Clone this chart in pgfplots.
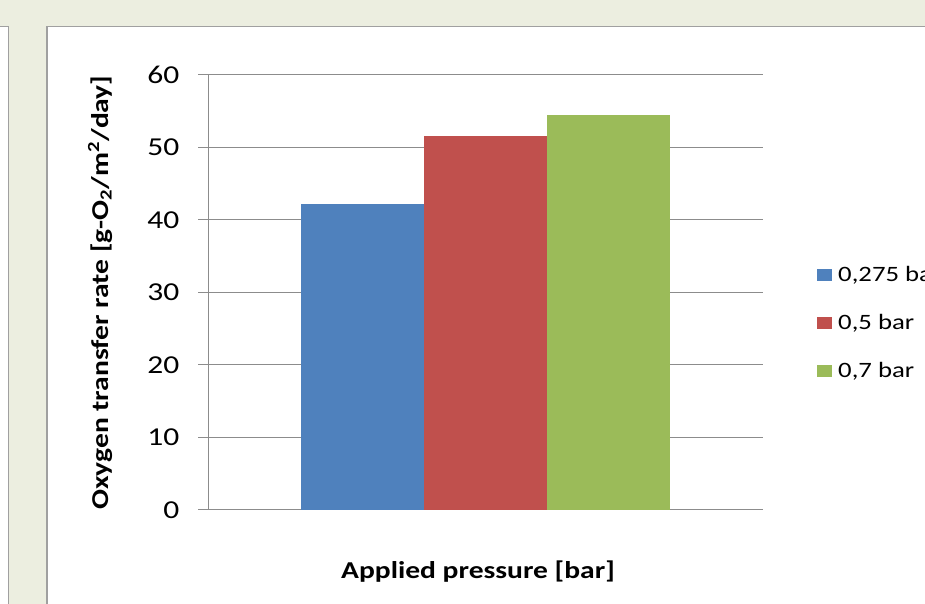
\documentclass[border=0pt]{standalone}
\usepackage{pgfplots}
\pgfplotsset{compat=1.18}
\usepackage{fontspec}
\setmainfont{Carlito}[FakeStretch=1.22]
\definecolor{bgc}{HTML}{ECEEE0}
\definecolor{bord}{HTML}{A0A0A0}
\definecolor{gridc}{HTML}{8C8C8C}
\definecolor{c1}{HTML}{4F81BD}
\definecolor{c2}{HTML}{C0504D}
\definecolor{c3}{HTML}{9BBB59}
\newcommand{\tickfont}{\fontsize{25.9}{30}\selectfont}
\newcommand{\legfont}{\fontsize{22}{26}\selectfont}
\newcommand{\labfont}{\fontsize{24.3}{29}\selectfont\bfseries}
\pgfplotsset{sqlegend/.style={legend image code/.code={\fill[##1] (0bp,0.5bp) rectangle (15bp,13bp);}}}
\begin{document}
\begin{tikzpicture}[x=1bp,y=1bp]
\useasboundingbox (0,0) rectangle (925,604);
\clip (0,0) rectangle (925,604);
\fill[bgc] (0,0) rectangle (925,604);
\fill[white] (-5,-5) rectangle (8.5,577.5);
\draw[bord, line width=1.5bp] (-5,577.5) -- (8.5,577.5) -- (8.5,-5);
\fill[white] (47,-5) rectangle (935,577.5);
\draw[bord, line width=1.5bp] (47,-5) -- (47,577.5) -- (935,577.5);
\begin{axis}[
  at={(208bp,94bp)}, anchor=south west,
  scale only axis, width=555bp, height=435bp,
  ybar=0pt, bar width=123bp,
  xmin=-1, xmax=1, ymin=0, ymax=60,
  ytick={0,10,20,30,40,50,60}, xtick=\empty,
  axis y line*=left, axis x line*=bottom,
  axis line style={gridc, line width=1bp, -},
  ymajorgrids, grid style={gridc, line width=1bp},
  tick style={gridc, line width=1bp},
  tick align=outside, major tick length=10bp,
  /pgf/number format/assume math mode=true,
  yticklabel style={font=\tickfont, inner sep=0pt, anchor=east, xshift=-18.5bp},
  ylabel={Oxygen transfer rate [g-O\textsubscript{2}/m\textsuperscript{2}/day]},
  xlabel={Applied pressure [bar]},
  ylabel style={font=\labfont, at={(axis description cs:-0.1946,0.5)}, anchor=center},
  xlabel style={font=\labfont, at={(axis description cs:0.4865,-0.1425)}, anchor=center},
  legend style={at={(axis description cs:1.0973,0.43)}, anchor=west, draw=none, fill=none,
    font=\legfont, row sep=34.5bp, column sep=6bp, inner sep=0pt,
    nodes={inner sep=0pt, text height=13.5bp, text depth=0bp, anchor=base west}},
]
\addplot[fill=c1, draw=none, sqlegend] coordinates {(0,42.2)};
\addplot[fill=c2, draw=none, sqlegend] coordinates {(0,51.6)};
\addplot[fill=c3, draw=none, sqlegend] coordinates {(0,54.5)};
\legend{0{,}275 bar, 0{,}5 bar, 0{,}7 bar}
\end{axis}
\end{tikzpicture}
\end{document}
